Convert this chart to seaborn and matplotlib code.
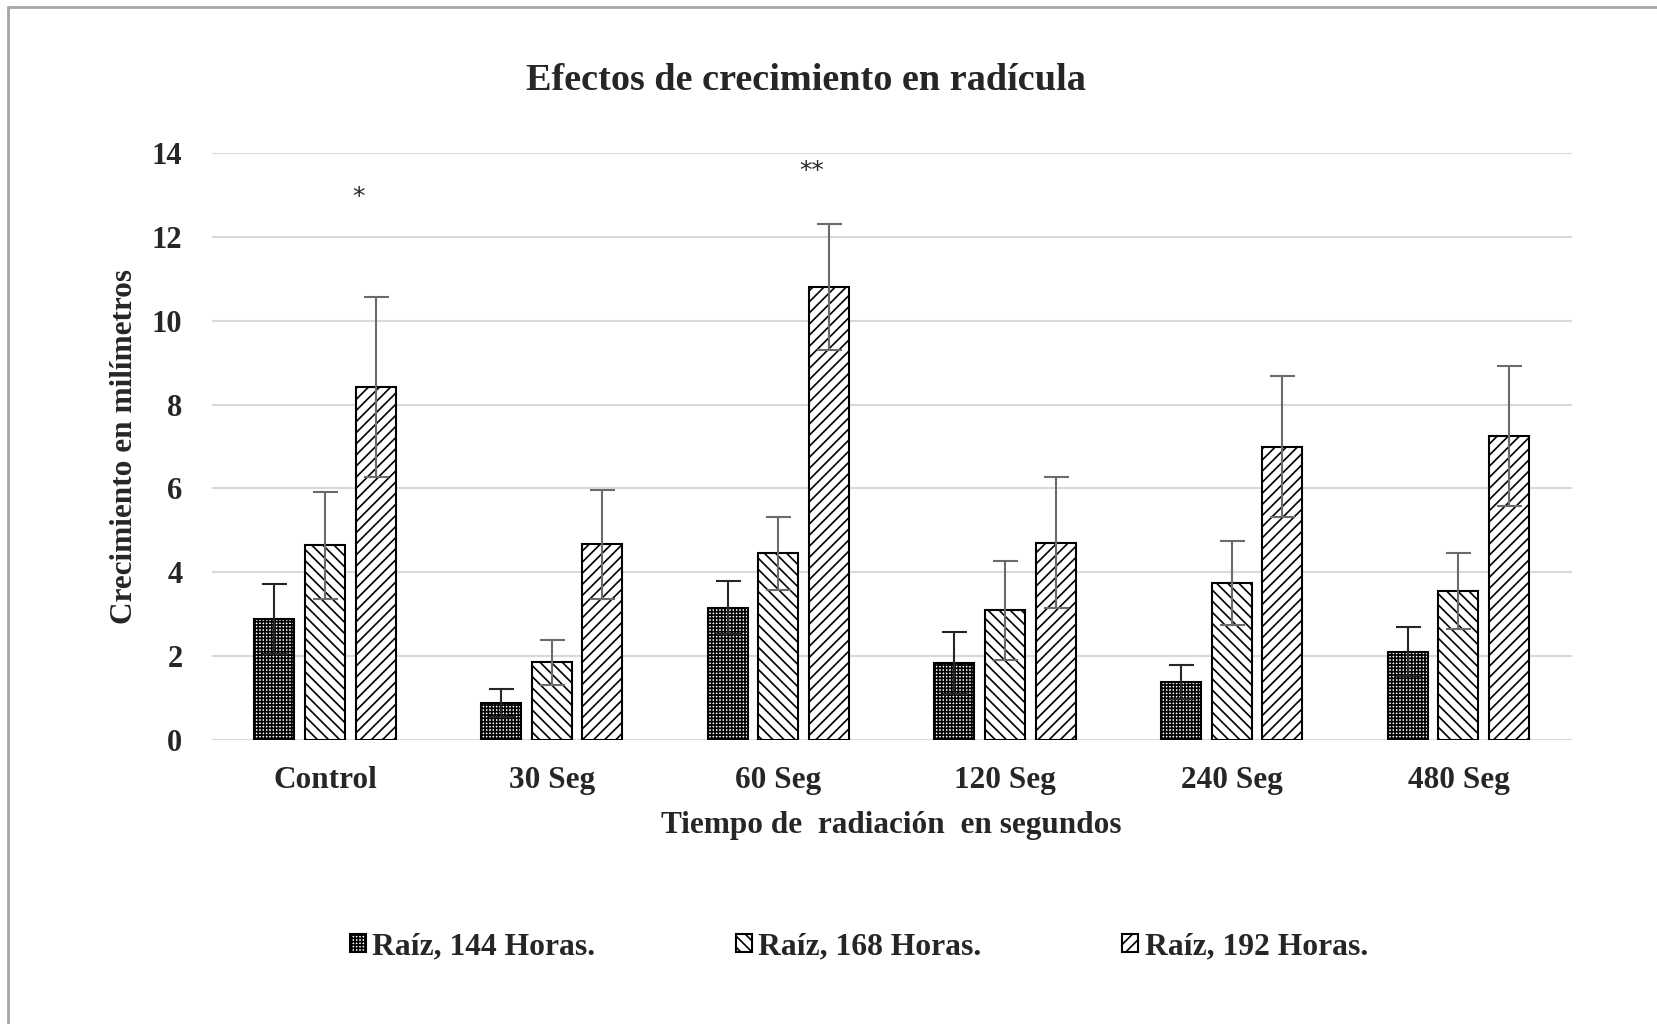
import pandas as pd
import numpy as np
import seaborn as sns
import matplotlib.pyplot as plt
from matplotlib.lines import Line2D

categories = ['Control', '30 Seg', '60 Seg', '120 Seg', '240 Seg', '480 Seg']
series = ['Raíz, 144 Horas.', 'Raíz, 168 Horas.', 'Raíz, 192 Horas.']

h144 = [2.89, 0.89, 3.16, 1.83, 1.39, 2.11]
h168 = [4.64, 1.85, 4.46, 3.10, 3.75, 3.55]
h192 = [8.42, 4.67, 10.80, 4.71, 7.00, 7.26]

e144 = [0.83, 0.33, 0.64, 0.74, 0.41, 0.58]
e168 = [1.27, 0.54, 0.87, 1.18, 1.00, 0.90]
e192 = [2.14, 1.30, 1.50, 1.56, 1.67, 1.67]

stars = ['*', '', '**', '', '', '']
star_y = [12.94, 0, 13.57, 0, 0, 0]

yticks = [0, 2, 4, 6, 8, 10, 12, 14]

rows = []
for s, vals in zip(series, [h144, h168, h192]):
    for c, v in zip(categories, vals):
        rows.append({'Tiempo': c, 'Crecimiento': v, 'Serie': s})
df = pd.DataFrame(rows)

sns.set_style('white')
plt.rcParams['font.family'] = ['Liberation Serif', 'DejaVu Serif']
plt.rcParams['font.weight'] = 'bold'
plt.rcParams['hatch.linewidth'] = 1.2

fig = plt.figure(figsize=(16.58, 10.24), dpi=100)
ax = fig.add_axes([0.1276, 0.2773, 0.948 - 0.1276, 0.8506 - 0.2773])

sns.barplot(data=df, x='Tiempo', y='Crecimiento', hue='Serie', order=categories,
            hue_order=series, palette={s: 'white' for s in series},
            edgecolor='black', linewidth=1.5, width=0.67, gap=0.21,
            errorbar=None, legend=False, ax=ax)

hatches = ['+++++', '\\\\\\', '///']
ecolors = ['#262626', '#6b6b6b', '#6b6b6b']
for cont, hatch, vals, errs, ec in zip(ax.containers, hatches,
                                       [h144, h168, h192], [e144, e168, e192], ecolors):
    for p in cont.patches:
        p.set_hatch(hatch)
        p.set_zorder(2)
    xs = [p.get_x() + p.get_width() / 2 for p in cont.patches]
    ax.errorbar(xs, vals, yerr=errs, fmt='none', ecolor=ec, elinewidth=1.5,
                capsize=9, capthick=1.5, zorder=3)

# significance marks over the 192 h bars (sit a little left of the bar centre)
for p, s, y in zip(ax.containers[2].patches, stars, star_y):
    if s:
        ax.text(p.get_x() + p.get_width() / 2 - 0.075, y, s, ha='center', va='center',
                fontsize=18, fontweight='normal', family='DejaVu Sans')

ax.set_ylim(0, 14)
ax.set_yticks(yticks)
ax.set_xlim(-0.5, len(categories) - 0.5)
ax.grid(axis='y', color='#d9d9d9', linewidth=1.5)
ax.set_axisbelow(True)
for sp in ax.spines.values():
    sp.set_visible(False)
ax.tick_params(axis='y', length=0, pad=21, labelsize=22)
ax.tick_params(axis='x', length=0, pad=19, labelsize=22.5)
for lab in ax.get_xticklabels() + ax.get_yticklabels():
    lab.set_fontweight('bold')

ax.set_xlabel('Tiempo de  radiación  en segundos', fontsize=22.5, fontweight='bold')
ax.xaxis.label.set_va('center')
ax.xaxis.set_label_coords(0.5, -0.145)
ax.set_ylabel('Crecimiento en milímetros', fontsize=22.5, fontweight='bold')
ax.yaxis.label.set_va('center')
ax.yaxis.set_label_coords(-0.064, 0.5)

fig.text(0.486, 0.921, 'Efectos de crecimiento en radícula', ha='center', va='center',
         fontsize=27.5, fontweight='bold')

fig.legend(ax.containers, series, loc='center', bbox_to_anchor=(0.518, 0.075), ncol=3,
           frameon=False, handlelength=0.5, handleheight=0.5,
           handletextpad=0.2, columnspacing=4.45, prop={'weight': 'bold', 'size': 22.8})

# chart area border (left and top edges visible)
fig.add_artist(Line2D([8 / 1658, 8 / 1658], [0, 1 - 7 / 1024], color='#a6a6a6', lw=2,
                      transform=fig.transFigure))
fig.add_artist(Line2D([8 / 1658, 1], [1 - 7 / 1024, 1 - 7 / 1024], color='#a6a6a6', lw=2,
                      transform=fig.transFigure))

fig.savefig('out.png', dpi=100)
